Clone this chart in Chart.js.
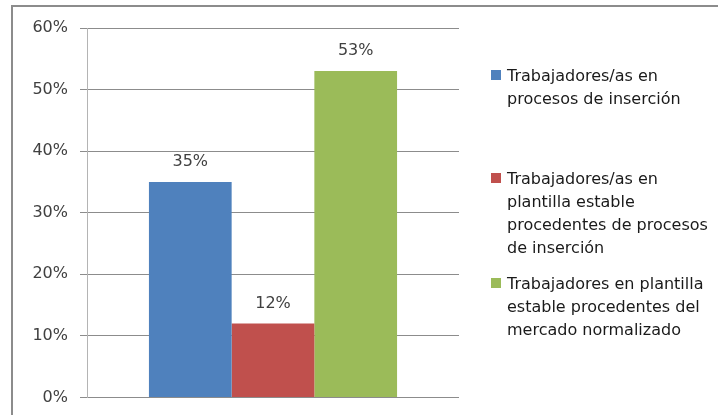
<!DOCTYPE html>
<html>
<head>
<meta charset="utf-8">
<script src="https://cdn.jsdelivr.net/npm/chart.js@4/dist/chart.umd.min.js"></script>
<style>
    body { margin: 0; background: #fff; overflow: hidden; }
    #wrap { position: relative; width: 718px; height: 415px; overflow: hidden; }
    #frame {
        position: absolute; left: 11px; top: 5px;
        width: 800px; height: 500px;
        border: 2px solid #8c8c8c;
    }
    #chart { position: absolute; left: 0; top: 0; }
    #legend {
        position: absolute; left: 491px; top: 0;
        font-family: "DejaVu Sans", sans-serif; font-size: 16px; color: #1a1a1a;
    }
    .item { position: absolute; left: 0; width: 225px; }
    .item:nth-child(1) { top: 64px; }
    .item:nth-child(2) { top: 167px; }
    .item:nth-child(3) { top: 272px; }
    .box { position: absolute; left: 0; top: 6px; width: 10px; height: 10px; }
    .txt { position: absolute; left: 16px; line-height: 23px; white-space: nowrap; }
</style>
</head>
<body>
<div id="wrap">
    <div id="frame"></div>
    <canvas id="chart" width="718" height="419"></canvas>
    <div id="legend"></div>
</div>
<script>
// chart data
const categories = [''];
const seriesNames = [
    ['Trabajadores/as en', 'procesos de inserción'],
    ['Trabajadores/as en', 'plantilla estable', 'procedentes de procesos', 'de inserción'],
    ['Trabajadores en plantilla', 'estable procedentes del', 'mercado normalizado']
];
const seriesValues = [35, 12, 53];
const seriesColors = ['#4F81BD', '#C0504D', '#9BBB59'];
const yTicks = [0, 10, 20, 30, 40, 50, 60];

// Value labels above each bar
const barLabels = {
    id: 'barLabels',
    afterDatasetsDraw(chart) {
        const ctx = chart.ctx;
        ctx.save();
        ctx.font = '16px "DejaVu Sans", sans-serif';
        ctx.fillStyle = '#404040';
        ctx.textAlign = 'center';
        ctx.textBaseline = 'middle';
        chart.data.datasets.forEach((ds, i) => {
            const bar = chart.getDatasetMeta(i).data[0];
            ctx.fillText(ds.data[0] + '%', bar.x, bar.y - 20);
        });
        ctx.restore();
    }
};

const ctx = document.getElementById('chart').getContext('2d');
const chart = new Chart(ctx, {
    type: 'bar',
    data: {
        labels: categories,
        datasets: seriesValues.map((v, i) => ({
            label: seriesNames[i].join(' '),
            data: [v],
            backgroundColor: seriesColors[i],
            borderWidth: 0,
            categoryPercentage: 0.667,
            barPercentage: 1.0
        }))
    },
    options: {
        responsive: false,
        animation: false,
        layout: { padding: { left: 20, top: 28, right: 259, bottom: 4 } },
        scales: {
            x: { display: false },
            y: {
                min: 0,
                max: 60,
                afterBuildTicks: scale => { scale.ticks = yTicks.map(v => ({ value: v })); },
                afterFit: scale => { scale.width = 67; },
                ticks: {
                    callback: v => v + '%',
                    color: '#404040',
                    padding: 12,
                    font: { family: '"DejaVu Sans", sans-serif', size: 16 }
                },
                grid: { color: '#8c8c8c', tickLength: 7 },
                border: { color: '#b4b4b4' }
            }
        },
        plugins: {
            legend: { display: false },
            tooltip: { enabled: false }
        }
    },
    plugins: [barLabels]
});

// HTML legend on the right
const legend = document.getElementById('legend');
seriesNames.forEach((lines, i) => {
    const item = document.createElement('div');
    item.className = 'item';
    const box = document.createElement('span');
    box.className = 'box';
    box.style.background = seriesColors[i];
    const txt = document.createElement('div');
    txt.className = 'txt';
    txt.innerHTML = lines.join('<br>');
    item.appendChild(box);
    item.appendChild(txt);
    legend.appendChild(item);
});
</script>
</body>
</html>
